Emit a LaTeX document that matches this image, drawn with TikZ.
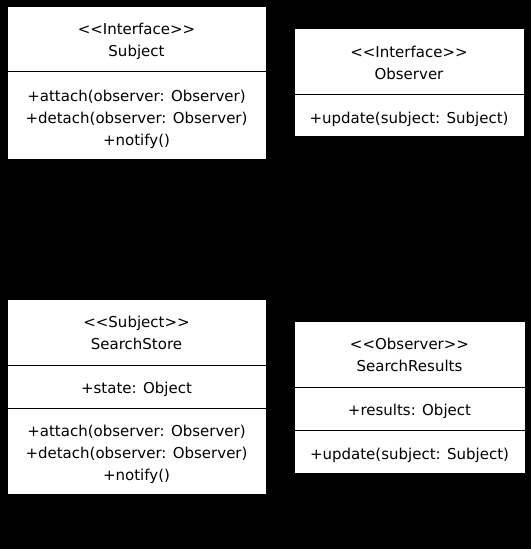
\documentclass[tikz,border=0pt]{standalone}
\usepackage{fontspec}
\setmainfont{DejaVu Sans}
\usetikzlibrary{calc}

\tikzset{
    classbox/.style={draw=black, fill=white, line width=1bp},
    member/.style={anchor=base, inner sep=0pt, font=\fontsize{15bp}{22bp}\selectfont}
}

\begin{document}
\begin{tikzpicture}[x=1bp, y=-1bp]
        % Background and page size
        \fill[black] (0,0) rectangle (531,549);
        \useasboundingbox (0,0) rectangle (531,549);

        % Interface Subject
        \draw[classbox] (7,7) rectangle (266,160);
        \draw[line width=1bp] (7,72) -- (266,72);
        \node[member] (subjstereo) at (136.5,35) {<{}<Interface>{}>};
        \node[member] (subjname) at (136.5,57) {Subject};
        \node[member] (subjattach) at (136.5,102) {+attach(observer: Observer)};
        \node[member] (subjdetach) at (136.5,124) {+detach(observer: Observer)};
        \node[member] (subjnotify) at (136.5,146) {+notify()};

        % Interface Observer
        \draw[classbox] (294,29) rectangle (524,137);
        \draw[line width=1bp] (294,95) -- (524,95);
        \node[member] (obsstereo) at (409,58) {<{}<Interface>{}>};
        \node[member] (obsname) at (409,80) {Observer};
        \node[member] (obsupdate) at (409,124) {+update(subject: Subject)};

        % Concrete subject SearchStore
        \draw[classbox] (7,299) rectangle (266,494);
        \draw[line width=1bp] (7,365) -- (266,365);
        \draw[line width=1bp] (7,408) -- (266,408);
        \node[member] (storestereo) at (136.5,327) {<{}<Subject>{}>};
        \node[member] (storename) at (136.5,349) {SearchStore};
        \node[member] (storestate) at (136.5,393) {+state: Object};
        \node[member] (storeattach) at (136.5,436) {+attach(observer: Observer)};
        \node[member] (storedetach) at (136.5,458) {+detach(observer: Observer)};
        \node[member] (storenotify) at (136.5,480) {+notify()};

        % Concrete observer SearchResults
        \draw[classbox] (294,321) rectangle (525,473);
        \draw[line width=1bp] (294,387) -- (525,387);
        \draw[line width=1bp] (294,430) -- (525,430);
        \node[member] (resstereo) at (409.5,349) {<{}<Observer>{}>};
        \node[member] (resname) at (409.5,371) {SearchResults};
        \node[member] (resresults) at (409.5,415) {+results: Object};
        \node[member] (resupdate) at (409.5,459) {+update(subject: Subject)};
    \end{tikzpicture}
\end{document}
